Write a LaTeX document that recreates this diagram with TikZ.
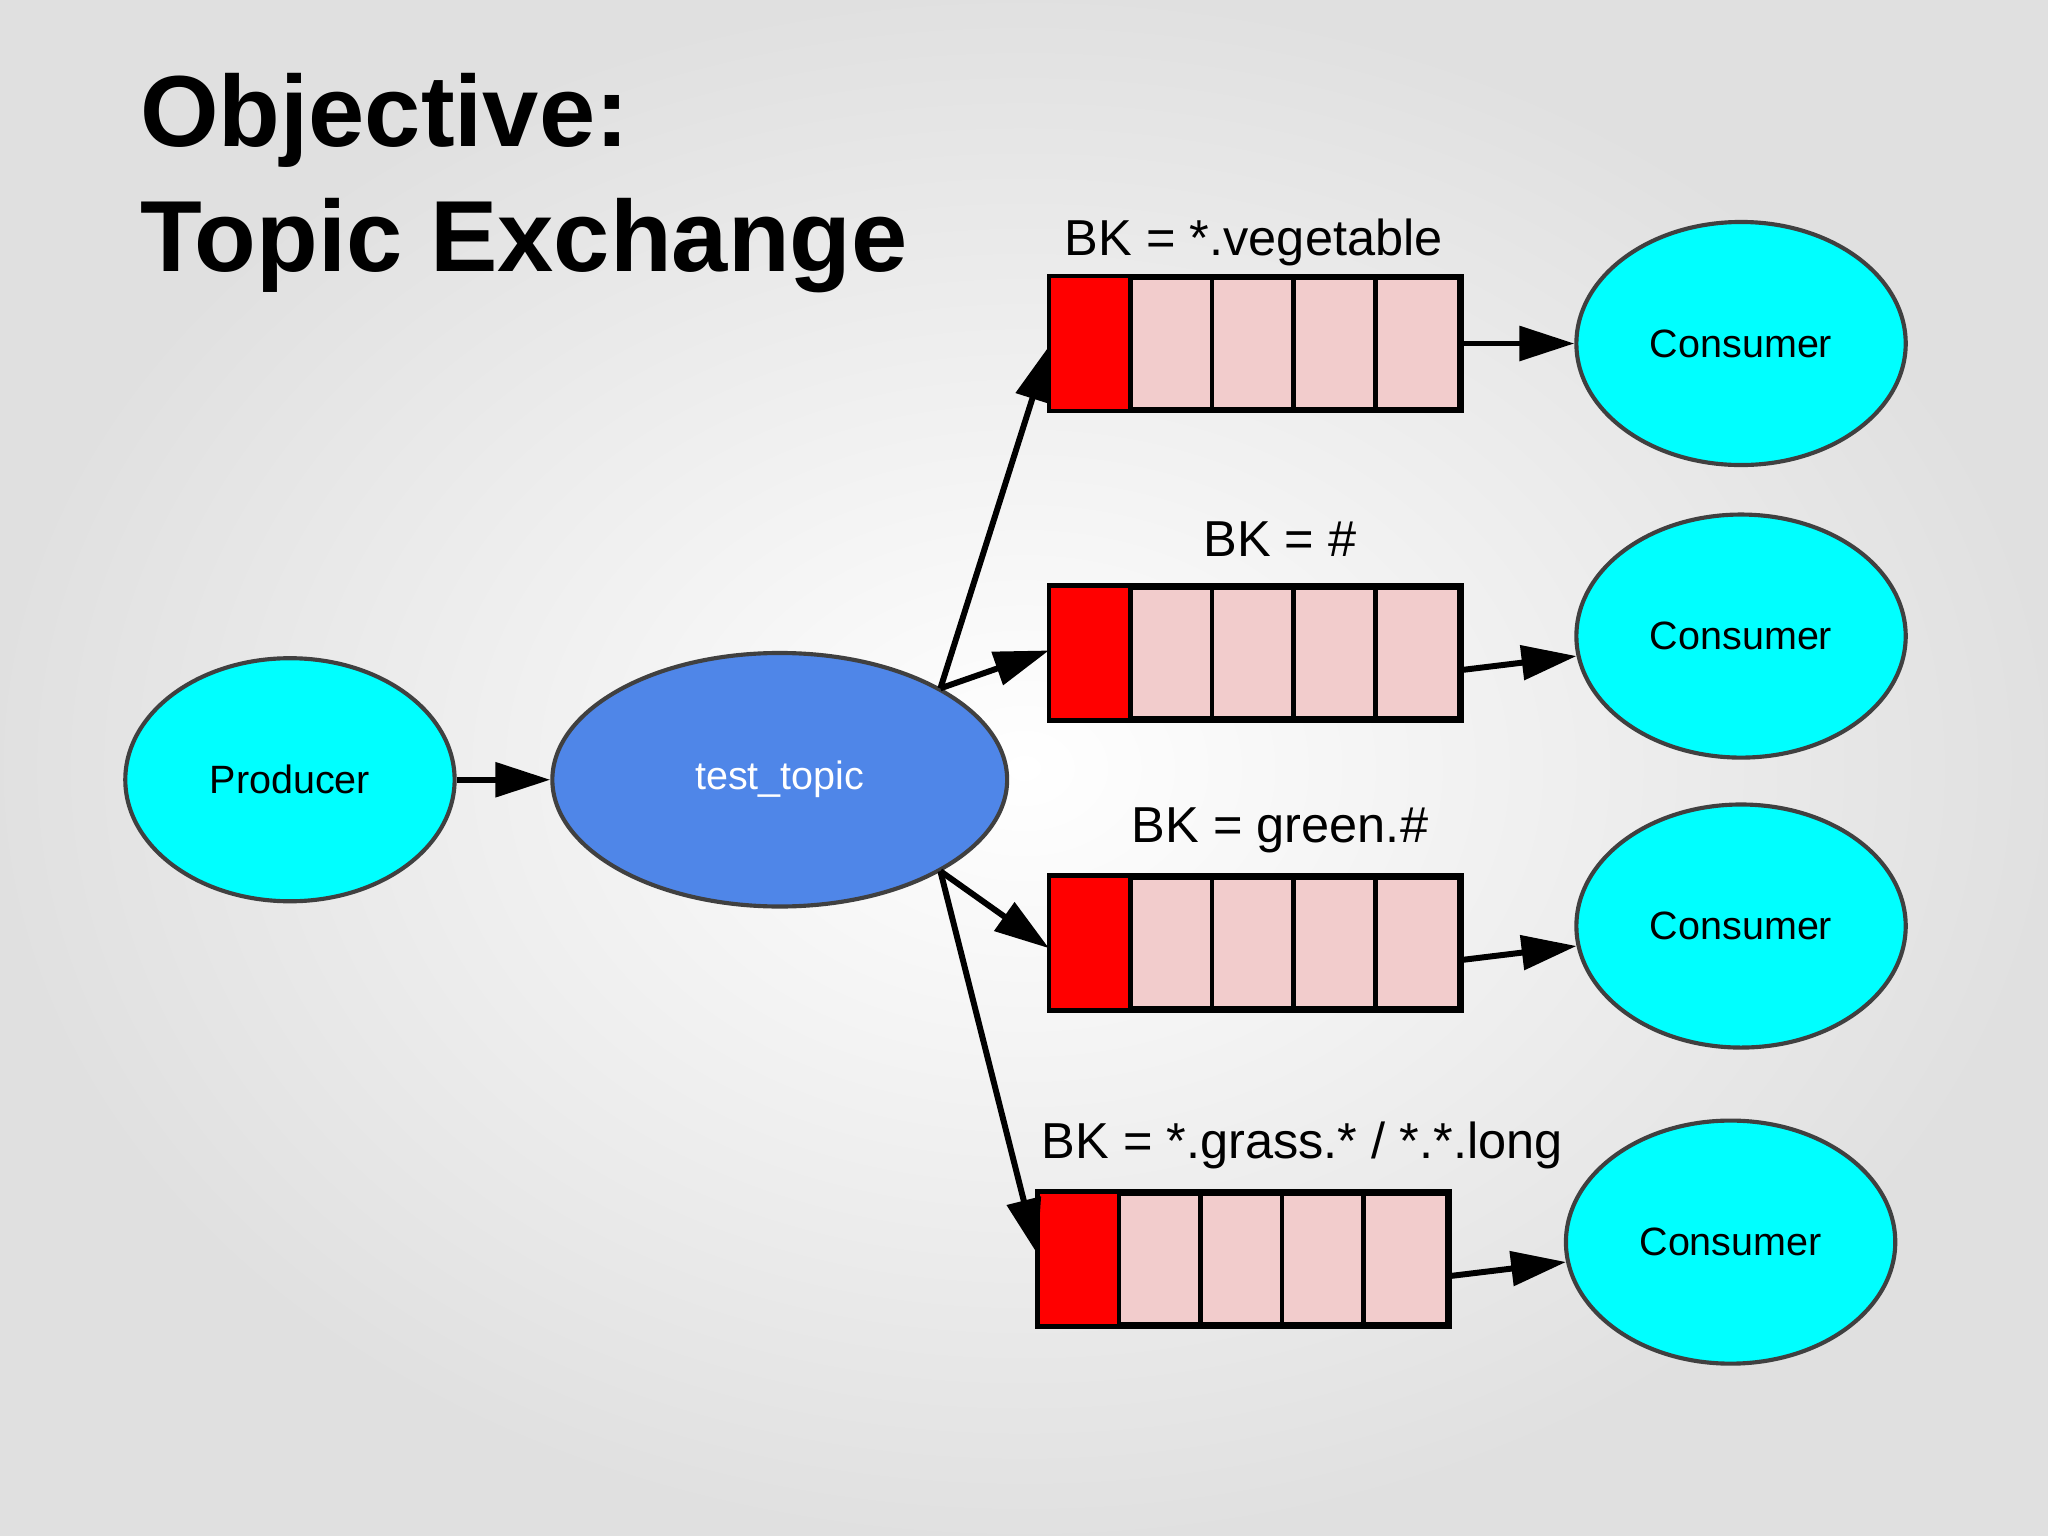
\documentclass[tikz,border=0pt]{standalone}
\usepackage{fontspec}
\setmainfont{Liberation Sans}
\usetikzlibrary{shapes.geometric,arrows.meta,positioning}
\definecolor{cyanfill}{HTML}{00FFFF}
\definecolor{exfill}{HTML}{4F86E8}
\definecolor{cellpink}{HTML}{F2CCCC}
\tikzset{
  agent/.style={ellipse, draw=black!75, line width=0.9pt, fill=cyanfill,
    minimum width=2.52cm, minimum height=1.86cm, font=\fontsize{8.6}{10}\selectfont},
  queue/.style={rectangle, draw=black, line width=1pt, fill=cellpink,
    minimum width=3.12cm, minimum height=1.0cm, inner sep=0pt},
  bk/.style={font=\fontsize{11}{13}\selectfont},
  arrow/.style={line width=1.3pt, -{Triangle[length=0.42cm,width=0.26cm]}}
}
\newcommand{\qcells}[1]{%
  \fill[red] (#1.north west) rectangle ([xshift=0.62cm]#1.south west);
  \foreach \i in {1,...,4}
    \draw[line width=1pt] ([xshift=\i*0.624cm]#1.north west) -- ([xshift=\i*0.624cm]#1.south west);
  \draw[line width=1pt] (#1.north west) rectangle (#1.south east);}
\begin{document}
\begin{tikzpicture}[x=0.01cm,y=-0.01cm]
\shade[inner color=white, outer color=black!12] (0,0) rectangle (1568,1176);
\useasboundingbox (0,0) rectangle (1568,1176);
\node[anchor=base west, font=\fontsize{22}{26}\bfseries\selectfont] (t1) at (95,112) {Objective:};
\node[anchor=base west, font=\fontsize{22}{26}\bfseries\selectfont] (t2) at (95,208) {Topic Exchange};

\node[agent] (prod) at (222,597) {Producer};
\node[ellipse, draw=black!75, line width=0.9pt, fill=exfill, text=white,
  minimum width=3.48cm, minimum height=1.94cm, font=\fontsize{8.6}{10}\selectfont] (ex) at (597,597) {test\_topic};

\node[queue] (q1) at (961,263) {};
\node[queue] (q2) at (961,500) {};
\node[queue] (q3) at (961,722) {};
\node[queue] (q4) at (952,964) {};
\qcells{q1}\qcells{q2}\qcells{q3}\qcells{q4}

\node[bk] (l1) at (960,186) {BK = *.vegetable};
\node[bk] (l2) at (980,413) {BK = \#};
\node[bk] (l3) at (980,636) {BK = green.\#};
\node[bk] (l4) at (997,877) {BK = *.grass.* / *.*.long};

\node[agent] (c1) at (1333,263) {Consumer};
\node[agent] (c2) at (1333,487) {Consumer};
\node[agent] (c3) at (1333,709) {Consumer};
\node[agent] (c4) at (1325,951) {Consumer};

\coordinate (eu) at (720,527);
\coordinate (ed) at (720,667);
\draw[arrow] (prod) -- (ex);
\draw[arrow] (eu) -- ([yshift=-0.02cm]q1.west);
\draw[arrow] (eu) -- ([yshift=0.02cm]q2.west);
\draw[arrow] (ed) -- ([yshift=-0.04cm]q3.west);
\draw[arrow] (ed) -- ([yshift=0.04cm]q4.west);
\draw[arrow] (q1.east) -- (c1);
\draw[arrow] ([yshift=-0.13cm]q2.east) -- (c2);
\draw[arrow] ([yshift=-0.13cm]q3.east) -- (c3);
\draw[arrow] ([yshift=-0.13cm]q4.east) -- (c4);
\end{tikzpicture}
\end{document}
